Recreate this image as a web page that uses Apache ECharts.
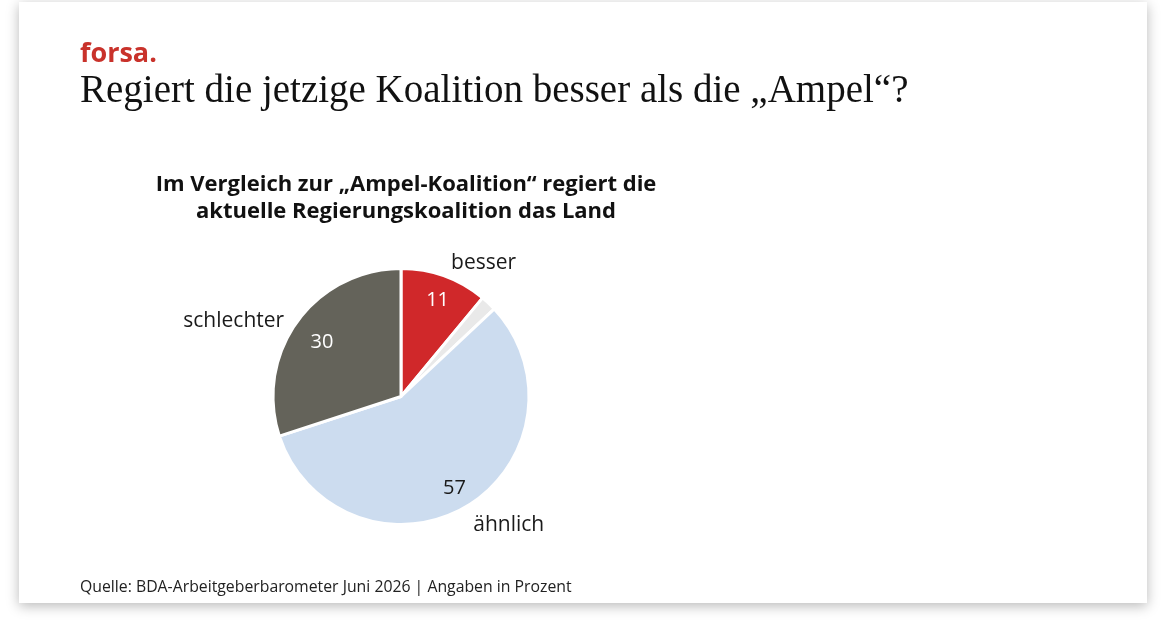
<!DOCTYPE html>
<html>
<head>
<meta charset="utf-8">
<script src="https://cdn.jsdelivr.net/npm/echarts@6/dist/echarts.min.js"></script>
<style>
  html, body { margin: 0; padding: 0; background: #fff; }
  #card {
    position: absolute; left: 19px; top: 2px; width: 1128px; height: 601px;
    background: #fff; box-shadow: 0 3px 12px rgba(0,0,0,0.28);
  }
  #main { width: 1128px; height: 601px; }
</style>
</head>
<body>
<div id="card"><div id="main"></div></div>
<script>
// Data
var categories = ['besser', 'weiß nicht', 'ähnlich', 'schlechter'];
var values = [11, 2, 57, 30];
var colors = ['#d0282a', '#e9e9e9', '#ccdcef', '#64635a'];
var valueColors = ['#ffffff', null, '#1a1a1a', '#ffffff'];
// small nudges of the labels
var nameShift = [[0, 0], [0, 0], [-2, 6], [0, 8]];
var valueShift = [[1, 3], [0, 0], [0, 1], [6, 8]];

var chartDom = document.getElementById('main');
var myChart = echarts.init(chartDom);
var center = [382, 394.5];
var labelFont = '"Open Sans", "Noto Sans", sans-serif';

// slices with the category names outside
var pieData = categories.map(function (name, i) {
  return {
    name: name,
    value: values[i],
    itemStyle: { color: colors[i] },
    label: { show: i !== 1 }
  };
});

// invisible bigger ring, only to put the numbers further out
var valueData = categories.map(function (name, i) {
  return {
    name: name,
    value: values[i],
    label: { show: valueColors[i] !== null, color: valueColors[i] || '#000' }
  };
});

var option = {
  animation: false,
  title: [{
    text: 'forsa.',
    left: 56, top: 34,
    textStyle: { fontFamily: labelFont, fontWeight: 'bold', fontSize: 27, color: '#c9322b' }
  }, {
    text: 'Regiert die jetzige Koalition besser als die „Ampel“?',
    left: 56, top: 65,
    textStyle: { fontFamily: '"Liberation Serif", "DejaVu Serif", serif', fontWeight: 'normal', fontSize: 39, color: '#111' }
  }, {
    text: 'Im Vergleich zur „Ampel-Koalition“ regiert die\naktuelle Regierungskoalition das Land',
    left: 382, top: 164, textAlign: 'center',
    textStyle: { fontFamily: labelFont, fontWeight: 'bold', fontSize: 22, lineHeight: 27, color: '#111' }
  }, {
    text: 'Quelle: BDA-Arbeitgeberbarometer Juni 2026 | Angaben in Prozent',
    left: 56, top: 572,
    textStyle: { fontFamily: labelFont, fontWeight: 'normal', fontSize: 15.8, color: '#222' }
  }],
  series: [{
    type: 'pie',
    center: center,
    radius: [0, 128],
    startAngle: 90,
    clockwise: true,
    avoidLabelOverlap: false,
    silent: true,
    itemStyle: { borderColor: '#fff', borderWidth: 3 },
    label: {
      position: 'outside',
      formatter: '{b}',
      fontFamily: labelFont, fontSize: 21, color: '#1a1a1a',
      distanceToLabelLine: 2
    },
    labelLine: { show: false, length: 14, length2: 0 },
    labelLayout: function (params) {
      var s = nameShift[params.dataIndex];
      return { dx: s[0], dy: s[1] };
    },
    data: pieData
  }, {
    type: 'pie',
    center: center,
    radius: [0, 204],
    startAngle: 90,
    clockwise: true,
    silent: true,
    avoidLabelOverlap: false,
    itemStyle: { color: 'rgba(0,0,0,0)', borderWidth: 0 },
    label: {
      position: 'inside',
      formatter: '{c}',
      fontFamily: labelFont, fontSize: 20
    },
    labelLine: { show: false },
    labelLayout: function (params) {
      var s = valueShift[params.dataIndex];
      return { dx: s[0], dy: s[1] };
    },
    data: valueData
  }]
};

myChart.setOption(option);
</script>
</body>
</html>
